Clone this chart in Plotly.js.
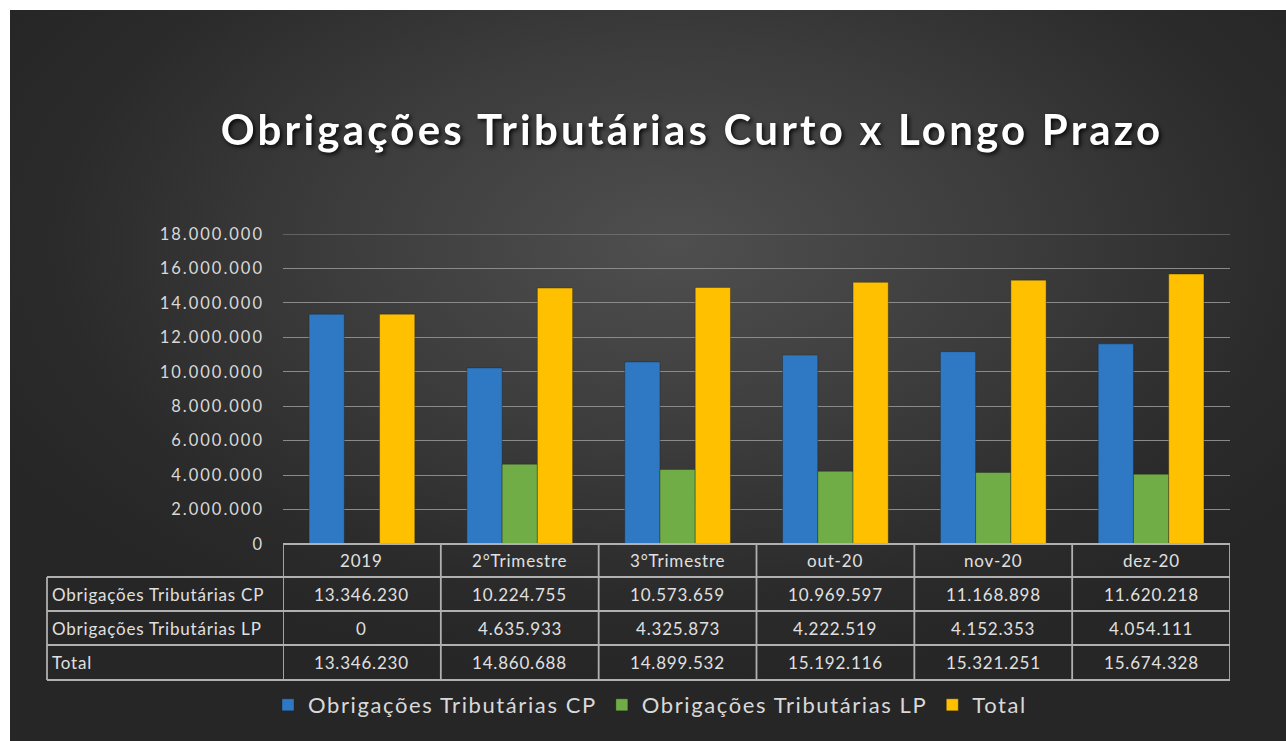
<!DOCTYPE html>
<html>
<head>
<meta charset="utf-8">
<script src="https://cdn.plot.ly/plotly-3.0.1.min.js"></script>
<style>
  html, body { margin:0; padding:0; background:#ffffff; width:1286px; height:741px; overflow:hidden; }
  #bg { position:absolute; left:10px; top:10px; width:1276px; height:731px;
        background: radial-gradient(ellipse 60% 60% at 52% 32%, #4f4f4f 0%, #3c3c3c 45%, #2b2b2b 80%, #262626 100%); }
  #chart { position:absolute; left:0; top:0; width:1286px; height:741px; }
  .gtitle { filter: drop-shadow(2px 2px 2px rgba(0,0,0,0.85)); letter-spacing: 3.2px; }
  .ytick text { letter-spacing: 2px; }
  .annotation-text { letter-spacing: 0.8px; }
  .legendtext { letter-spacing: 1.6px; }
</style>
</head>
<body>
<div id="bg"></div>
<div id="chart"></div>
<script>
const categories = ["2019", "2°Trimestre", "3°Trimestre", "out-20", "nov-20", "dez-20"];
const seriesNames = ["Obrigações Tributárias CP", "Obrigações Tributárias LP", "Total"];
const valuesCP = [13346230, 10224755, 10573659, 10969597, 11168898, 11620218];
const valuesLP = [0, 4635933, 4325873, 4222519, 4152353, 4054111];
const valuesTotal = [13346230, 14860688, 14899532, 15192116, 15321251, 15674328];
const tickValues = [0, 2000000, 4000000, 6000000, 8000000, 10000000, 12000000, 14000000, 16000000, 18000000];

const colors = ["#2e78c4", "#70ad47", "#ffc000"];
const allValues = [valuesCP, valuesLP, valuesTotal];

// pixel geometry helpers
const plotLeft = 283, plotRight = 1230, plotTop = 234, plotBottom = 544;
const plotW = plotRight - plotLeft, plotH = plotBottom - plotTop;
const px = p => (p - plotLeft) / plotW;
const py = p => (plotBottom - p) / plotH;

function fmt(n) { return n.toString().replace(/\B(?=(\d{3})+(?!\d))/g, "."); }

const traces = allValues.map((vals, i) => ({
  type: "bar",
  name: seriesNames[i],
  x: categories,
  y: vals,
  marker: { color: colors[i], line: { color: "rgba(30,30,30,0.35)", width: 1 } },
  hoverinfo: "skip"
}));

const borderColor = "#b0b0b0";
const textColor = "#e0e0e0";
const fontFam = "Lato, 'Open Sans', sans-serif";
const shapes = [];
const annotations = [];

// top gridline (at the range maximum, which plotly omits)
shapes.push({type:"line", xref:"paper", yref:"y", x0:0, x1:1, y0:tickValues[tickValues.length-1], y1:tickValues[tickValues.length-1], line:{color:"#8a8a8a", width:1}, layer:"below"});

const rowBounds = [544, 577, 611, 645, 680]; // header, CP, LP, Total
const tableLeft = 47;

// horizontal lines
shapes.push({type:"line", xref:"paper", yref:"paper", x0:0, x1:1, y0:py(rowBounds[0]), y1:py(rowBounds[0]), line:{color:borderColor, width:1.8}});
for (let r = 1; r < rowBounds.length; r++) {
  shapes.push({type:"line", xref:"paper", yref:"paper", x0:px(tableLeft), x1:1, y0:py(rowBounds[r]), y1:py(rowBounds[r]), line:{color:borderColor, width:1.8}});
}
// vertical lines
shapes.push({type:"line", xref:"paper", yref:"paper", x0:px(tableLeft), x1:px(tableLeft), y0:py(rowBounds[1]), y1:py(rowBounds[4]), line:{color:borderColor, width:1.8}});
for (let c = 0; c <= categories.length; c++) {
  shapes.push({type:"line", xref:"x", yref:"paper", x0:c - 0.5, x1:c - 0.5, y0:py(rowBounds[0]), y1:py(rowBounds[4]), line:{color:borderColor, width:1.8}});
}

// header labels
categories.forEach((c, i) => {
  annotations.push({xref:"x", yref:"paper", x:i, y:py((rowBounds[0]+rowBounds[1])/2), text:c, showarrow:false,
    xanchor:"center", yanchor:"middle", font:{family:fontFam, size:17, color:textColor}});
});
// rows
seriesNames.forEach((name, r) => {
  const yc = py((rowBounds[r+1] + rowBounds[r+2]) / 2);
  annotations.push({xref:"paper", yref:"paper", x:px(tableLeft + 3), y:yc, text:name, showarrow:false,
    xanchor:"left", yanchor:"middle", font:{family:fontFam, size:17, color:textColor}});
  allValues[r].forEach((v, i) => {
    annotations.push({xref:"x", yref:"paper", x:i, y:yc, text:fmt(v), showarrow:false,
      xanchor:"center", yanchor:"middle", font:{family:fontFam, size:17, color:textColor}});
  });
});

const layout = {
  width: 1286, height: 741,
  paper_bgcolor: "rgba(0,0,0,0)",
  plot_bgcolor: "rgba(0,0,0,0)",
  separators: ",.",
  margin: { l: plotLeft, r: 1286 - plotRight, t: plotTop, b: 741 - plotBottom, pad: 0 },
  title: {
    text: "Obrigações Tributárias Curto x Longo Prazo",
    x: 692/1286, xref: "container", xanchor: "center",
    y: 1 - 130/741, yref: "container", yanchor: "middle",
    font: { family: fontFam, size: 42, color: "#ffffff", weight: "bold" }
  },
  barmode: "group",
  bargap: 0.33,
  bargroupgap: 0,
  showlegend: true,
  legend: {
    orientation: "h",
    x: px(650), xanchor: "center",
    y: py(705), yanchor: "middle",
    font: { family: fontFam, size: 22, color: "#d9d9d9" },
    bgcolor: "rgba(0,0,0,0)",
    itemwidth: 30
  },
  xaxis: {
    type: "category",
    range: [-0.5, 5.5],
    showticklabels: false,
    showgrid: false,
    zeroline: false,
    showline: false,
    fixedrange: true
  },
  yaxis: {
    range: [0, 18000000],
    tickvals: tickValues,
    tickformat: ",d",
    showgrid: true,
    gridcolor: "#8a8a8a",
    gridwidth: 1,
    zeroline: false,
    showline: false,
    ticks: "",
    ticklabelstandoff: 18,
    tickfont: { family: fontFam, size: 16.5, color: "#d9d9d9" },
    fixedrange: true
  },
  shapes: shapes,
  annotations: annotations
};

Plotly.newPlot("chart", traces, layout, { displayModeBar: false, staticPlot: true });
</script>
</body>
</html>
